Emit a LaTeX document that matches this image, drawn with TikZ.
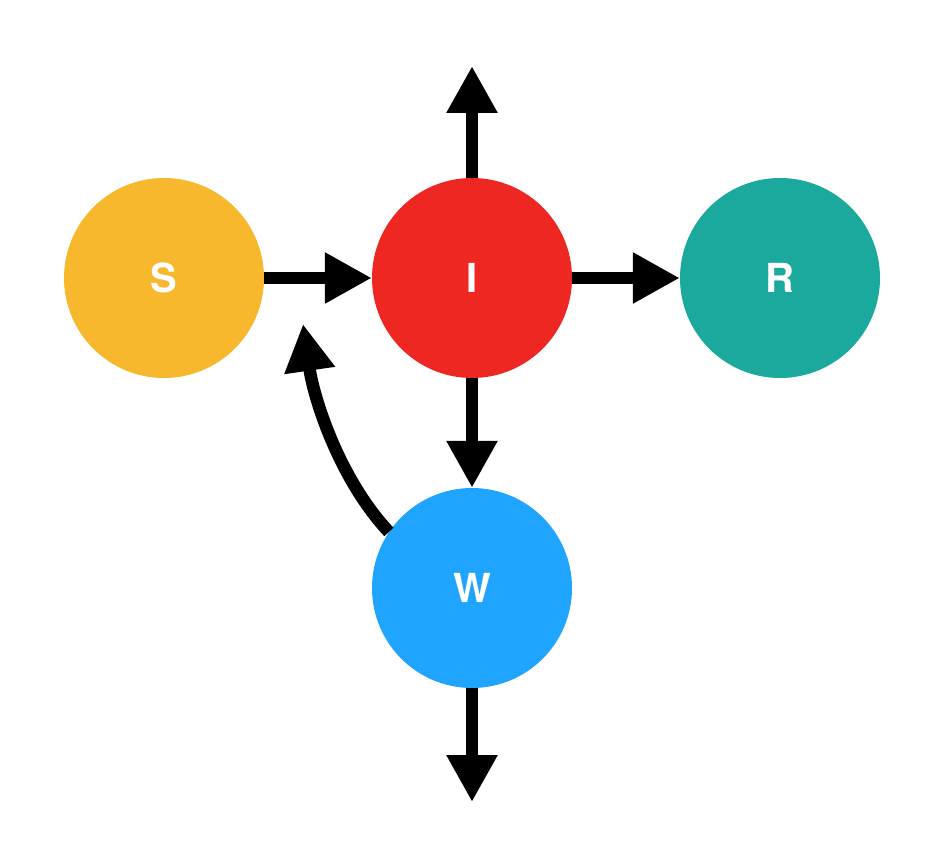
\documentclass[tikz,border=0pt]{standalone}
\usepackage{fontspec}
\setmainfont{TeX Gyre Heros}
\usetikzlibrary{arrows.meta}
\definecolor{cS}{RGB}{247,184,45}
\definecolor{cI}{RGB}{238,39,34}
\definecolor{cR}{RGB}{26,169,156}
\definecolor{cW}{RGB}{31,165,255}
\begin{document}
\begin{tikzpicture}[x=1pt,y=-1pt,
  state/.style={circle,minimum size=200pt,inner sep=0pt,text=white,font=\fontsize{40}{40}\selectfont\bfseries},
  flow/.style={line width=12.5pt,-{Triangle[length=47pt,width=48pt]}}]
\useasboundingbox (0,0) rectangle (944,858);
\node[state,fill=cS] (S) at (164,278) {S};
\node[state,fill=cI] (I) at (472,278) {I};
\node[state,fill=cR] (R) at (780,278) {R};
\node[state,fill=cW] (W) at (472,588) {W};
\coordinate (top) at (472,66);
\coordinate (bot) at (472,802);
\coordinate (ctip) at (303,324);
\draw[flow] (S) -- (I);
\draw[flow] (I) -- (R);
\draw[flow] (I.north) -- (top);
\draw[flow] (I) -- (W);
\draw[flow] (W.south) -- (bot);
\draw[flow] (W.146) .. controls (340,480) and (314,400) .. (ctip);
\end{tikzpicture}
\end{document}
